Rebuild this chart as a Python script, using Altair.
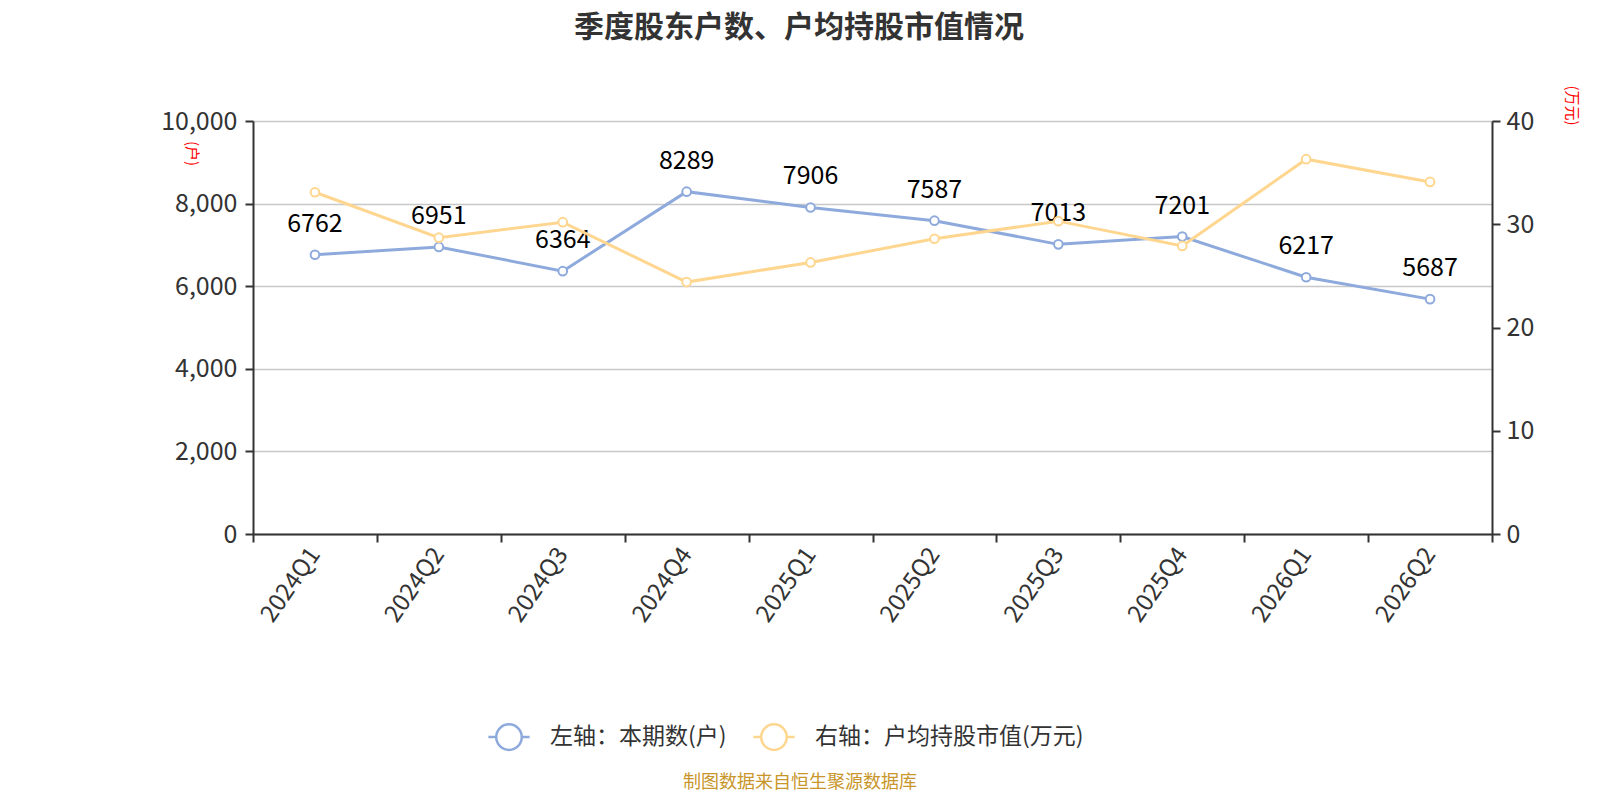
import altair as alt
import pandas as pd

quarters = ["2024Q1", "2024Q2", "2024Q3", "2024Q4", "2025Q1",
            "2025Q2", "2025Q3", "2025Q4", "2026Q1", "2026Q2"]
holders = [6762, 6951, 6364, 8289, 7906, 7587, 7013, 7201, 6217, 5687]
avg_value = [33.1, 28.7, 30.2, 24.4, 26.3, 28.6, 30.3, 27.9, 36.3, 34.1]

s1 = "左轴：本期数(户)"
s2 = "右轴：户均持股市值(万元)"
title_text = "季度股东户数、户均持股市值情况"
footer_text = "制图数据来自恒生聚源数据库"

blue = "#8eaadc"
yellow = "#ffd68f"
FONT = "Noto Sans CJK SC"

df1 = pd.DataFrame({"quarter": quarters, "value": holders, "series": s1})
df2 = pd.DataFrame({"quarter": quarters, "value": avg_value, "series": s2})

color = alt.Color(
    "series:N",
    scale=alt.Scale(domain=[s1, s2], range=[blue, yellow]),
    legend=alt.Legend(
        title=None,
        orient="none",
        legendX=234,
        legendY=594,
        direction="horizontal",
        symbolType="M-1,0L-0.62,0M0.62,0L1,0M-0.62,0A0.62,0.62 0 1,1 0.62,0A0.62,0.62 0 1,1 -0.62,0Z",
        symbolSize=1700,
        symbolStrokeWidth=2.5,
        symbolFillColor="white",
        labelFontSize=23,
        labelColor="#333333",
        labelFont=FONT,
        labelOffset=19,
        labelLimit=0,
        columnPadding=21,
        symbolOpacity=1,
    ),
)

x = alt.X(
    "quarter:N",
    sort=quarters,
    scale=alt.Scale(type="band", paddingInner=0, paddingOuter=0),
    axis=alt.Axis(
        title=None,
        labelAngle=-55,
        labelAlign="right",
        labelBaseline="middle",
        labelFontSize=24,
        labelColor="#333333",
        labelFont=FONT,
        labelPadding=8,
        tickBand="extent",
        tickSize=8,
        tickWidth=2,
        tickColor="#333333",
        domainColor="#333333",
        domainWidth=2,
        grid=False,
    ),
)

y1 = alt.Y(
    "value:Q",
    scale=alt.Scale(domain=[0, 10000]),
    axis=alt.Axis(
        title="(户)",
        titleColor="red",
        titleFontSize=15,
        titleFontWeight="normal",
        titleFont=FONT,
        titleAngle=90,
        titleX=-62,
        titleY=32,
        titleAlign="center",
        titleBaseline="middle",
        values=[0, 2000, 4000, 6000, 8000, 10000],
        labelExpr="format(datum.value, ',')",
        labelFontSize=25,
        labelColor="#333333",
        labelFont=FONT,
        labelPadding=8,
        tickSize=8,
        tickWidth=2,
        tickColor="#333333",
        domainColor="#333333",
        domainWidth=2,
        grid=True,
        gridColor="#c8c8c8",
        gridWidth=1.5,
    ),
)

y2 = alt.Y(
    "value:Q",
    scale=alt.Scale(domain=[0, 40]),
    axis=alt.Axis(
        orient="right",
        title="(万元)",
        titleColor="red",
        titleFontSize=15,
        titleFontWeight="normal",
        titleFont=FONT,
        titleAngle=90,
        titleX=79,
        titleY=-16,
        titleAlign="center",
        titleBaseline="middle",
        values=[0, 10, 20, 30, 40],
        labelFontSize=25,
        labelColor="#333333",
        labelFont=FONT,
        labelPadding=6,
        tickSize=8,
        tickWidth=2,
        tickColor="#333333",
        domainColor="#333333",
        domainWidth=2,
        grid=False,
    ),
)

b1 = alt.Chart(df1)
left = alt.layer(
    b1.mark_line(strokeWidth=3).encode(x=x, y=y1, color=color),
    b1.mark_point(size=75, filled=False, fill="white", strokeWidth=2, opacity=1).encode(x=x, y=y1, color=color),
    b1.mark_text(dy=-31, fontSize=25, font=FONT, color="black").encode(x=x, y=y1, text="value:Q"),
)

b2 = alt.Chart(df2)
right = alt.layer(
    b2.mark_line(strokeWidth=3).encode(x=x, y=y2, color=color),
    b2.mark_point(size=75, filled=False, fill="white", strokeWidth=2, opacity=1).encode(x=x, y=y2, color=color),
)

footer = alt.Chart(pd.DataFrame({"t": [footer_text]})).mark_text(
    fontSize=18, font=FONT, color="#c8962a", align="center", baseline="middle"
).encode(x=alt.value(547), y=alt.value(662), text="t:N")

title = alt.Chart(pd.DataFrame({"t": [title_text]})).mark_text(
    fontSize=30, font=FONT, fontWeight="bold", color="#333333", align="center", baseline="middle"
).encode(x=alt.value(546), y=alt.value(-93), text="t:N")

chart = alt.layer(left, right, footer, title).resolve_scale(y="independent").properties(
    width=1239,
    height=413,
    autosize=alt.AutoSizeParams(type="none"),
    padding={"left": 245, "top": 113, "right": 100, "bottom": 258},
).configure_view(stroke=None)

chart.save("out.html", embed_options={"renderer": "svg", "actions": False})
